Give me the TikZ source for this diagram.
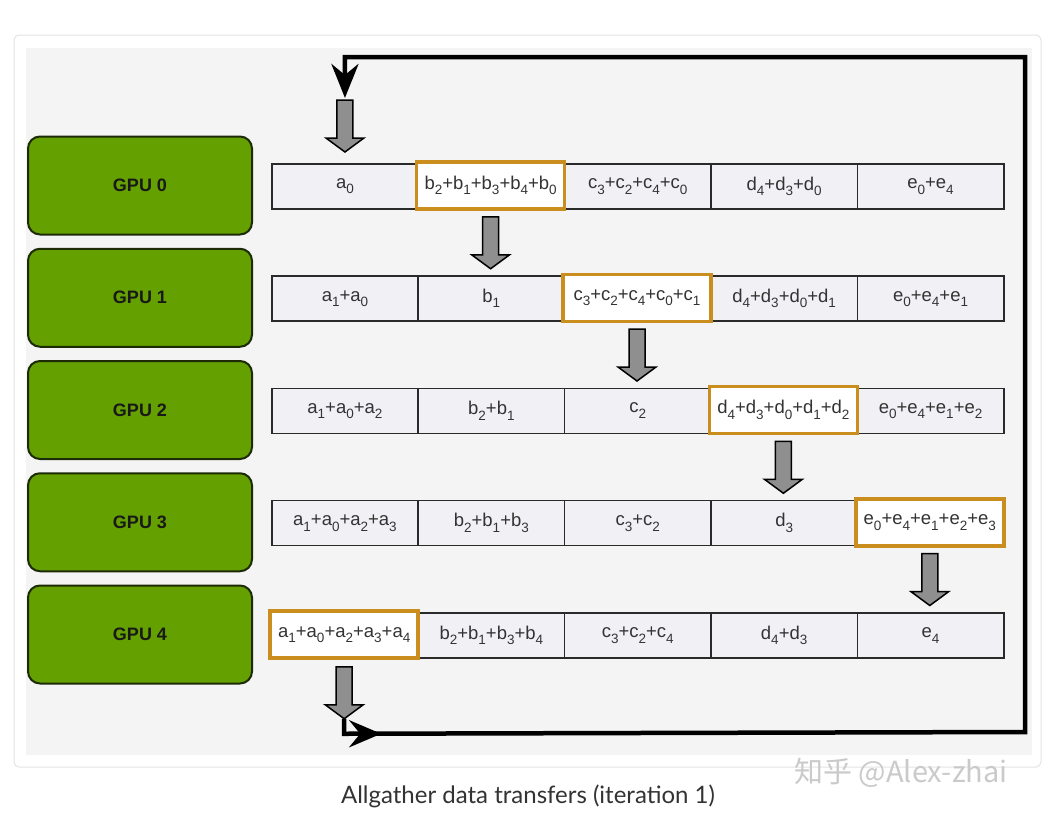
\documentclass[tikz,border=0pt]{standalone}
\usepackage{fontspec}
\setmainfont{Liberation Sans}
\newfontfamily\capfont{Lato}
\newfontfamily\cjk{Noto Sans CJK SC}
\usetikzlibrary{arrows.meta,calc}

\definecolor{gpugreen}{HTML}{64A000}
\definecolor{gpuedge}{HTML}{1C2A05}
\definecolor{cellfill}{HTML}{F1F1F5}
\definecolor{celledge}{HTML}{2A2A2A}
\definecolor{hiedge}{HTML}{C98E1D}
\definecolor{arrowgray}{HTML}{8F8F8F}
\definecolor{panel}{HTML}{F4F4F4}
\definecolor{cardedge}{HTML}{E4E4E4}
\definecolor{celltext}{HTML}{333333}
\definecolor{captext}{HTML}{333333}
\definecolor{wmark}{HTML}{CACACA}

% lowered index digit
\newcommand\lo[1]{\raisebox{-0.3em}{\fontsize{13.5}{13.5}\selectfont #1}}

\tikzset{
  gpubox/.style={draw=gpuedge, fill=gpugreen, line width=2pt, rounded corners=12pt,
    minimum width=224pt, minimum height=98pt, inner sep=0pt,
    font=\fontsize{18}{18}\selectfont\bfseries, text=black!90},
  cellbox/.style={draw=celledge, fill=cellfill, line width=1.5pt,
    minimum width=146.4pt, minimum height=45pt, inner sep=0pt, anchor=north west,
    font=\fontsize{18.5}{18.5}\selectfont, text=celltext},
  hibox/.style={draw=hiedge, fill=white, line width=3.5pt,
    minimum width=148pt, minimum height=47pt, inner sep=0pt,
    font=\fontsize{18.5}{18.5}\selectfont, text=celltext},
  loopline/.style={draw=black, line width=4.5pt, line join=miter},
  garrow/.pic={
    \draw[fill=arrowgray, draw=black, line width=1.5pt, line join=miter]
      (-8,0) -- (8,0) -- (8,38) -- (19,38) -- (0,52) -- (-19,38) -- (-8,38) -- cycle;
    \coordinate (-top) at (0,0);
    \coordinate (-tip) at (0,52);
  }
}

% plain cell: name, row, column, text
\newcommand\cell[4]{\node[cellbox] (#1) at ({271+146.4*#3},{163+112.25*#2}) {#4};}
% highlighted cell, drawn on top of its neighbours
\newcommand\hcell[4]{\node[hibox] (#1) at ({271+146.4*#3+73.2},{163+112.25*#2+22.5}) {#4};}

\begin{document}
\begin{tikzpicture}[x=1pt,y=-1pt]
\useasboundingbox (0,0) rectangle (1053,831);
\fill[white] (0,0) rectangle (1053,831);

% card and panel
\draw[cardedge, fill=white, line width=1pt, rounded corners=5pt] (14,35) rectangle (1041,767);
\fill[panel] (26,48) rectangle (1032,755);

% GPU boxes
\foreach \k in {0,...,4}
  \node[gpubox] (gpu\k) at (140,{185.5+112.25*\k}) {GPU \k};

% row 0
\cell{r0c0}{0}{0}{a\lo{0}}
\cell{r0c2}{0}{2}{c\lo{3}+c\lo{2}+c\lo{4}+c\lo{0}}
\cell{r0c3}{0}{3}{d\lo{4}+d\lo{3}+d\lo{0}}
\cell{r0c4}{0}{4}{e\lo{0}+e\lo{4}}
\hcell{r0c1}{0}{1}{b\lo{2}+b\lo{1}+b\lo{3}+b\lo{4}+b\lo{0}}

% row 1
\cell{r1c0}{1}{0}{a\lo{1}+a\lo{0}}
\cell{r1c1}{1}{1}{b\lo{1}}
\cell{r1c3}{1}{3}{d\lo{4}+d\lo{3}+d\lo{0}+d\lo{1}}
\cell{r1c4}{1}{4}{e\lo{0}+e\lo{4}+e\lo{1}}
\hcell{r1c2}{1}{2}{c\lo{3}+c\lo{2}+c\lo{4}+c\lo{0}+c\lo{1}}

% row 2
\cell{r2c0}{2}{0}{a\lo{1}+a\lo{0}+a\lo{2}}
\cell{r2c1}{2}{1}{b\lo{2}+b\lo{1}}
\cell{r2c2}{2}{2}{c\lo{2}}
\cell{r2c4}{2}{4}{e\lo{0}+e\lo{4}+e\lo{1}+e\lo{2}}
\hcell{r2c3}{2}{3}{d\lo{4}+d\lo{3}+d\lo{0}+d\lo{1}+d\lo{2}}

% row 3
\cell{r3c0}{3}{0}{a\lo{1}+a\lo{0}+a\lo{2}+a\lo{3}}
\cell{r3c1}{3}{1}{b\lo{2}+b\lo{1}+b\lo{3}}
\cell{r3c2}{3}{2}{c\lo{3}+c\lo{2}}
\cell{r3c3}{3}{3}{d\lo{3}}
\hcell{r3c4}{3}{4}{e\lo{0}+e\lo{4}+e\lo{1}+e\lo{2}+e\lo{3}}

% row 4
\cell{r4c1}{4}{1}{b\lo{2}+b\lo{1}+b\lo{3}+b\lo{4}}
\cell{r4c2}{4}{2}{c\lo{3}+c\lo{2}+c\lo{4}}
\cell{r4c3}{4}{3}{d\lo{4}+d\lo{3}}
\cell{r4c4}{4}{4}{e\lo{4}}
\hcell{r4c0}{4}{0}{a\lo{1}+a\lo{0}+a\lo{2}+a\lo{3}+a\lo{4}}

% gray transfer arrows
\pic (ain) at ($(r0c0.north)+(0,-63)$) {garrow};
\pic (a01) at ($(r0c1.south)+(0,6)$) {garrow};
\pic (a12) at ($(r1c2.south)+(0,6)$) {garrow};
\pic (a23) at ($(r2c3.south)+(0,6)$) {garrow};
\pic (a34) at ($(r3c4.south)+(0,6)$) {garrow};
\pic (aout) at ($(r4c0.south)+(0,7)$) {garrow};

% ring back from GPU 4 to GPU 0
\coordinate (loopBL) at ($(aout-tip)+(0,15)$);
\coordinate (loopBR) at (1025,732);
\coordinate (loopTR) at (1025,57);
\coordinate (loopTL) at ($(ain-top)+(0,-43)$);
\draw[loopline, -{Stealth[length=34pt,width=27pt,inset=11pt]}, shorten >=2pt]
  (aout-tip) -- (loopBL) -- (loopBR) -- (loopTR) -- (loopTL) -- (ain-top);
\draw[loopline, -{Stealth[length=32pt,width=27pt,inset=11pt]}]
  (loopBL) -- ($(loopBL)+(37,0)$);

% caption and credit
\node[font=\capfont\fontsize{24}{24}\selectfont, text=captext] (caption) at (528,796)
  {Allgather data transfers (iteration 1)};
\node[font=\cjk\fontsize{29}{29}\selectfont, text=wmark] (credit) at (901,773)
  {知乎 @Alex-zhai};
\end{tikzpicture}
\end{document}
